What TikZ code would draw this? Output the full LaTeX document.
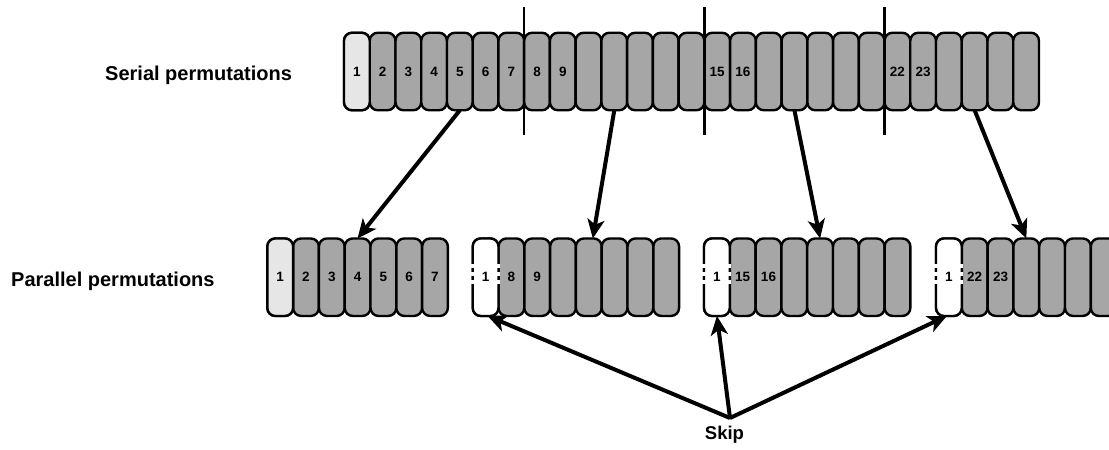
\documentclass[tikz,border=0pt]{standalone}
\usepackage{fontspec}
\setmainfont{Liberation Sans}
\usetikzlibrary{arrows.meta}
\begin{document}
\begin{tikzpicture}[x=1pt,y=-1pt,
  cellbase/.style={rectangle, rounded corners=8pt, draw=black, line width=2.4pt,
    minimum width=25.74pt, minimum height=77.5pt, inner sep=0pt, outer sep=0pt},
  gcell/.style={cellbase, fill=cellgray},
  lcell/.style={cellbase, fill=celllight},
  wcell/.style={cellbase, fill=white},
  num/.style={font=\fontsize{13.5}{15}\selectfont\bfseries, inner sep=0pt},
  lbl/.style={font=\fontsize{20}{24}\selectfont\bfseries, inner sep=0pt, anchor=base west},
  divider/.style={line width=2.4pt},
  bigarrow/.style={line width=4pt, -{Stealth[length=19pt, width=17pt, inset=5pt]}},
  gapmask/.style={white, line width=3.4pt, dash pattern=on 4pt off 4pt}
]
\definecolor{cellgray}{HTML}{A6A6A6}
\definecolor{celllight}{HTML}{E6E6E6}
\useasboundingbox[fill=white] (0,0) rectangle (1109,450);

% labels
\node[lbl] (serial) at (105,80) {Serial permutations};
\node[lbl] (parallel) at (11,286) {Parallel permutations};

% top row
\foreach \i in {1,...,27} {
  \node[gcell] (t\i) at ({344+(\i-0.5)*25.74}, 71.5) {};
}
\node[lcell] (t1x) at (t1) {};
\foreach \i in {1,...,9,15,16,22,23} { \node[num] at (t\i) {\i}; }

% dividers
\draw[divider] (524.2,7) -- (524.2,135);
\draw[divider] (704.4,7) -- (704.4,135);
\draw[divider] (884.5,7) -- (884.5,135);

% bottom group 1
\foreach \i in {1,...,7} {
  \node[gcell] (a\i) at ({267.3+(\i-0.5)*25.8}, 277.2) {};
}
\node[lcell] (a1x) at (a1) {};
\foreach \i in {1,...,7} { \node[num] at (a\i) {\i}; }

% bottom group 2
\foreach \i in {1,...,8} {
  \node[gcell] (b\i) at ({472.7+(\i-0.5)*25.8}, 277.2) {};
}
\node[wcell] (b1x) at (b1) {};
\node[num] at (b1) {1};
\node[num] at (b2) {8};
\node[num] at (b3) {9};

% bottom group 3
\foreach \i in {1,...,8} {
  \node[gcell] (c\i) at ({704+(\i-0.5)*25.8}, 277.2) {};
}
\node[wcell] (c1x) at (c1) {};
\node[num] at (c1) {1};
\node[num] at (c2) {15};
\node[num] at (c3) {16};

% bottom group 4
\foreach \i in {1,...,7} {
  \node[gcell] (d\i) at ({936+(\i-0.5)*25.8}, 277.2) {};
}
\node[wcell] (d1x) at (d1) {};
\node[num] at (d1) {1};
\node[num] at (d2) {22};
\node[num] at (d3) {23};

% dashed gaps on the white cells
\foreach \n in {b1,c1,d1} {
  \draw[gapmask] ([yshift=-6.5pt]\n.west) -- ([yshift=14pt]\n.west);
  \draw[gapmask] ([yshift=-6.5pt]\n.east) -- ([yshift=14pt]\n.east);
}

% arrows top -> bottom
\draw[bigarrow] (t5.south) -- (a4.north);
\draw[bigarrow] (t11.south) -- ([xshift=4pt]b5.north);
\draw[bigarrow] (t18.south) -- (c5.north);
\draw[bigarrow] (t25.south) -- (d4.north);

% skip
\coordinate (skip) at (730,418);
\node[font=\fontsize{18.5}{22}\selectfont\bfseries, inner sep=0pt, anchor=base] (skiplbl) at (724.5,439.5) {Skip};
\draw[bigarrow] (skip) -- ([xshift=2pt]b1.south);
\draw[bigarrow] (skip) -- (c1.south);
\draw[bigarrow] (skip) -- ([xshift=-2pt]d1.south);
\end{tikzpicture}
\end{document}
